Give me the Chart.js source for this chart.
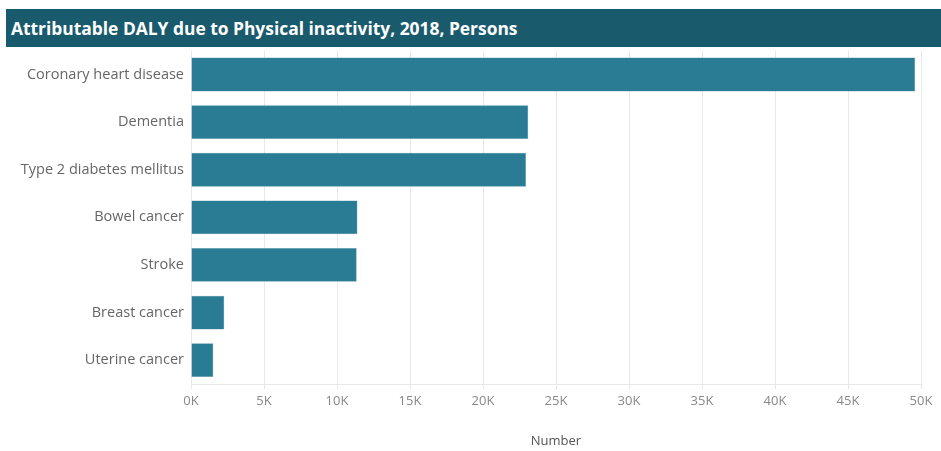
<!DOCTYPE html>
<html>
<head>
<meta charset="utf-8">
<script src="https://cdn.jsdelivr.net/npm/chart.js@4"></script>
<style>
  html, body { margin: 0; padding: 0; background: #fff; width: 941px; height: 451px; overflow: hidden; }
  #title {
    position: absolute; left: 6px; top: 9px; width: 935px; height: 38px;
    background: #1a5a6d; color: #fff; font-family: "Open Sans", sans-serif;
    font-weight: 700; font-size: 17.4px; line-height: 38px; padding-left: 5px; box-sizing: border-box;
  }
  #wrap { position: absolute; left: 0; top: 35px; width: 941px; height: 416px; }
</style>
</head>
<body>
<div id="title">Attributable DALY due to Physical inactivity, 2018, Persons</div>
<div id="wrap"><canvas id="c"></canvas></div>
<script>
const categories = ["Coronary heart disease", "Dementia", "Type 2 diabetes mellitus", "Bowel cancer", "Stroke", "Breast cancer", "Uterine cancer"];
const values = [49600, 23100, 22950, 11400, 11350, 2280, 1530];
const xTicks = [0, 5000, 10000, 15000, 20000, 25000, 30000, 35000, 40000, 45000, 50000];
const xTitle = "Number";

new Chart(document.getElementById('c'), {
  type: 'bar',
  data: {
    labels: categories,
    datasets: [{
      data: values,
      backgroundColor: '#2a7b94',
      borderColor: '#5f9fb3',
      borderWidth: 0.5,
      barPercentage: 0.71,
      categoryPercentage: 1.0
    }]
  },
  options: {
    indexAxis: 'y',
    responsive: true,
    maintainAspectRatio: false,
    animation: false,
    layout: { padding: { left: 0, right: 20, top: 0, bottom: 0 } },
    plugins: { legend: { display: false }, tooltip: { enabled: false } },
    scales: {
      x: {
        min: 0, max: 50000,
        afterBuildTicks: (s) => { s.ticks = xTicks.map(v => ({ value: v })); },
        afterFit: (s) => { s.height = 67; },
        ticks: {
          color: '#888', font: { family: 'Open Sans', size: 13 }, padding: 4,
          callback: (v) => (v / 1000) + 'K', maxRotation: 0
        },
        grid: { color: '#e8e8e8', tickLength: 5, drawTicks: true },
        border: { color: '#e8e8e8' },
        title: { display: true, text: xTitle, color: '#555', font: { family: 'Open Sans', size: 13 }, padding: { top: 0, bottom: 2 } }
      },
      y: {
        afterFit: (s) => { s.width = 191; },
        ticks: { color: '#666', font: { family: 'Open Sans', size: 14.5 }, padding: 7 },
        grid: { display: false, drawTicks: false },
        border: { display: false }
      }
    }
  }
});
</script>
</body>
</html>
